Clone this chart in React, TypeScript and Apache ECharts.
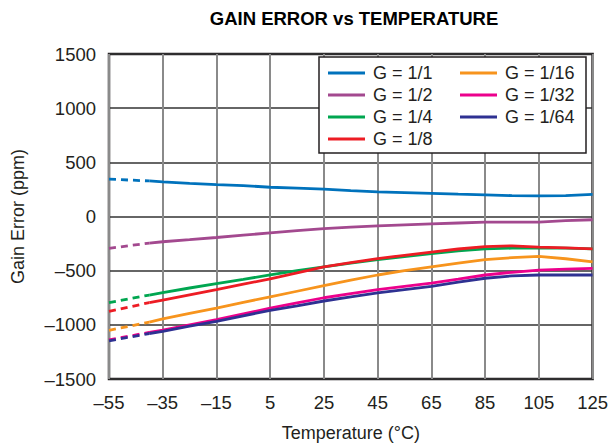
import React, { useEffect, useRef } from "react";
import * as echarts from "echarts";

const temps = [-55, -40, -35, -25, -15, -5, 5, 15, 25, 35, 45, 55, 65, 75, 85, 95, 105, 115, 125];

const gainNames = ["G = 1/1", "G = 1/2", "G = 1/4", "G = 1/8", "G = 1/16", "G = 1/32", "G = 1/64"];
const gainColors = ["#0072bc", "#a3498f", "#00a650", "#ed1c24", "#f7941d", "#ec008c", "#2e3192"];

const g1 = [345, 328, 320, 305, 294, 285, 270, 262, 252, 238, 227, 220, 213, 206, 200, 193, 191, 193, 205];
const g2 = [-294, -245, -233, -214, -194, -172, -151, -130, -112, -98, -87, -78, -69, -60, -51, -51, -51, -38, -30];
const g4 = [-795, -725, -702, -660, -620, -580, -539, -500, -464, -430, -398, -370, -343, -318, -298, -292, -289, -292, -298];
const g8 = [-876, -795, -771, -723, -675, -625, -575, -520, -464, -425, -389, -358, -328, -300, -278, -271, -283, -290, -298];
const g16 = [-1051, -975, -946, -895, -846, -793, -741, -690, -639, -588, -540, -500, -464, -430, -398, -380, -368, -390, -419];
const g32 = [-1139, -1070, -1048, -1000, -952, -899, -846, -798, -750, -712, -675, -645, -615, -578, -540, -515, -495, -485, -479];
const g64 = [-1148, -1080, -1060, -1013, -967, -917, -867, -825, -780, -742, -705, -675, -645, -605, -570, -548, -540, -540, -540];

const gainValues = [g1, g2, g4, g8, g16, g32, g64];

const yTicks = { min: -1500, max: 1500, step: 500 };
const xTicks = { min: -55, max: 125, step: 20 };

const FONT = "'Liberation Sans', Arial, Helvetica, sans-serif";
const TEXT = "#231f20";

const fmt = (v: number) => (v < 0 ? "\u2013" + Math.abs(v) : String(v));

export default function App() {
  const ref = useRef<HTMLDivElement>(null);

  useEffect(() => {
    if (!ref.current) return;
    document.body.style.margin = "0";
    const chart = echarts.init(ref.current, undefined, { renderer: "svg" });

    const series: any[] = [];
    gainNames.forEach((name, i) => {
      const pts = temps.map((t, j) => [t, gainValues[i][j]]);
      series.push({
        name: name + " (extrapolated)",
        type: "line",
        data: pts.slice(0, 2),
        symbol: "none",
        lineStyle: { color: gainColors[i], width: 2.8, type: [7, 5] },
        itemStyle: { color: gainColors[i] },
        z: 2,
      });
      series.push({
        name,
        type: "line",
        data: pts.slice(1),
        symbol: "none",
        lineStyle: { color: gainColors[i], width: 2.8 },
        itemStyle: { color: gainColors[i] },
        z: 2,
      });
    });

    const legendCommon = {
      orient: "vertical",
      padding: 0,
      itemGap: 4,
      itemWidth: 37,
      itemHeight: 3,
      icon: "rect",
      selectedMode: false,
      textStyle: {
        fontFamily: FONT,
        fontSize: 18,
        lineHeight: 18,
        color: TEXT,
        padding: [0, 0, 0, 3],
      },
      z: 5,
    };

    chart.setOption({
      animation: false,
      backgroundColor: "#ffffff",
      textStyle: { fontFamily: FONT },
      grid: {
        left: 109,
        right: 15,
        top: 54,
        bottom: 66,
        show: true,
        borderColor: TEXT,
        borderWidth: 2.5,
        backgroundColor: "transparent",
      },
      legend: [
        { ...legendCommon, left: 328, top: 64, data: gainNames.slice(0, 4) },
        { ...legendCommon, left: 460, top: 64, data: gainNames.slice(4) },
      ],
      graphic: [
        {
          type: "text",
          x: 354,
          y: 9,
          style: {
            text: "GAIN ERROR vs TEMPERATURE",
            fontFamily: FONT,
            fontSize: 18.5,
            fontWeight: "bold",
            fill: "#000000",
            textAlign: "center",
            textVerticalAlign: "top",
          },
        },
        {
          type: "rect",
          shape: { x: 319, y: 57, width: 267, height: 96 },
          style: { fill: "#ffffff", stroke: TEXT, lineWidth: 1.5 },
          z: 4,
        },
      ],
      xAxis: {
        type: "value",
        min: xTicks.min,
        max: xTicks.max,
        interval: xTicks.step,
        name: "Temperature (\u00b0C)",
        nameLocation: "middle",
        nameGap: 45,
        nameTextStyle: { fontFamily: FONT, fontSize: 18, color: TEXT },
        axisLine: { show: false },
        axisTick: { show: false },
        axisLabel: {
          fontFamily: FONT,
          fontSize: 18.5,
          color: TEXT,
          margin: 14,
          formatter: fmt,
        },
        splitLine: { show: true, lineStyle: { color: "#8a8a8a", width: 2 } },
      },
      yAxis: {
        type: "value",
        min: yTicks.min,
        max: yTicks.max,
        interval: yTicks.step,
        name: "Gain Error (ppm)",
        nameLocation: "middle",
        nameGap: 82,
        nameTextStyle: { fontFamily: FONT, fontSize: 18, color: TEXT },
        axisLine: { show: false },
        axisTick: { show: false },
        axisLabel: {
          fontFamily: FONT,
          fontSize: 18.5,
          color: TEXT,
          margin: 13,
          formatter: fmt,
        },
        splitLine: { show: true, lineStyle: { color: "#333333", width: 1.5 } },
      },
      series,
    });

    return () => chart.dispose();
  }, []);

  return <div ref={ref} style={{ width: 611, height: 447 }} />;
}
